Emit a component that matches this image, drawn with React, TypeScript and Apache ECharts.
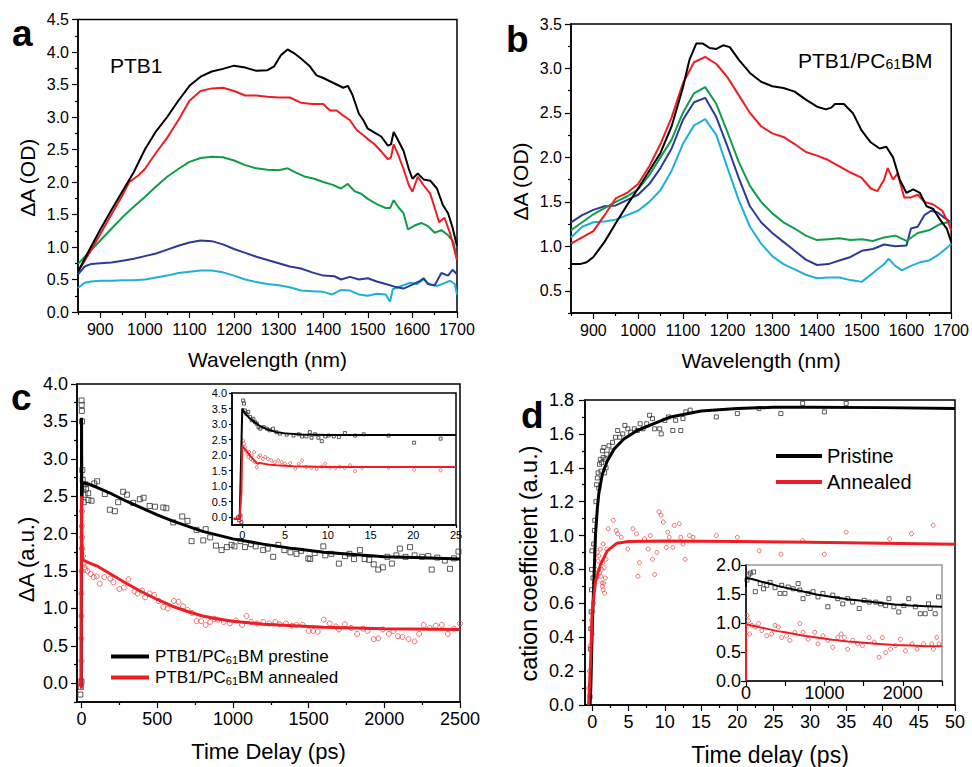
import React, { useEffect, useRef } from 'react';
import * as echarts from 'echarts';

const FONT = '"Liberation Sans", Arial, Helvetica, sans-serif';

// ---------------- Panel a: PTB1 spectra (wavelength nm, ΔA OD) ----------------
const aBlack = [[850,0.62],[875,0.95],[900,1.27],[925,1.57],[950,1.86],[975,2.15],[1000,2.5],[1025,2.78],[1050,3.0],[1075,3.25],[1100,3.48],[1125,3.62],[1150,3.7],[1175,3.74],[1200,3.79],[1225,3.76],[1250,3.71],[1275,3.72],[1290,3.78],[1305,3.95],[1320,4.04],[1335,3.98],[1350,3.9],[1370,3.78],[1385,3.64],[1400,3.6],[1415,3.55],[1430,3.5],[1445,3.45],[1455,3.48],[1465,3.35],[1480,3.05],[1490,2.95],[1500,2.82],[1515,2.76],[1530,2.7],[1545,2.56],[1552,2.58],[1558,2.77],[1565,2.68],[1580,2.48],[1592,2.2],[1600,2.05],[1612,2.13],[1625,2.04],[1640,2.02],[1655,1.9],[1668,1.65],[1680,1.52],[1690,1.3],[1700,1.02]];
const aRed = [[850,0.62],[875,0.9],[900,1.2],[925,1.5],[950,1.8],[965,2.0],[985,2.1],[1000,2.2],[1025,2.45],[1050,2.68],[1075,2.95],[1100,3.25],[1125,3.4],[1150,3.44],[1175,3.45],[1200,3.4],[1225,3.33],[1250,3.33],[1275,3.31],[1300,3.3],[1325,3.3],[1350,3.22],[1375,3.2],[1400,3.2],[1415,3.1],[1430,3.1],[1445,3.02],[1460,2.95],[1475,2.8],[1490,2.72],[1500,2.66],[1515,2.58],[1530,2.47],[1545,2.35],[1552,2.38],[1558,2.58],[1568,2.42],[1580,2.2],[1592,1.95],[1600,1.85],[1612,2.08],[1625,1.95],[1640,1.82],[1650,1.6],[1660,1.38],[1672,1.45],[1685,1.2],[1700,0.8]];
const aGreen = [[850,0.74],[875,0.92],[900,1.1],[925,1.28],[950,1.46],[975,1.62],[1000,1.77],[1025,1.93],[1050,2.08],[1075,2.2],[1100,2.31],[1125,2.37],[1150,2.39],[1175,2.38],[1200,2.33],[1225,2.26],[1250,2.21],[1275,2.19],[1300,2.18],[1320,2.21],[1340,2.14],[1360,2.08],[1380,2.05],[1400,2.0],[1420,1.96],[1440,1.9],[1455,1.97],[1470,1.86],[1485,1.82],[1500,1.74],[1520,1.66],[1540,1.6],[1550,1.6],[1558,1.72],[1570,1.6],[1580,1.52],[1590,1.27],[1605,1.33],[1620,1.37],[1635,1.32],[1650,1.22],[1665,1.26],[1680,1.18],[1692,1.08],[1700,0.8]];
const aBlue = [[850,0.58],[865,0.7],[880,0.74],[900,0.75],[925,0.76],[950,0.79],[975,0.82],[1000,0.86],[1025,0.9],[1050,0.96],[1075,1.02],[1100,1.07],[1125,1.1],[1150,1.09],[1175,1.04],[1200,0.97],[1225,0.91],[1250,0.85],[1275,0.8],[1300,0.75],[1325,0.7],[1350,0.67],[1375,0.61],[1400,0.56],[1425,0.55],[1440,0.5],[1460,0.54],[1480,0.5],[1500,0.52],[1520,0.47],[1540,0.43],[1560,0.39],[1580,0.36],[1600,0.42],[1615,0.47],[1625,0.52],[1635,0.43],[1650,0.41],[1665,0.6],[1680,0.56],[1690,0.65],[1700,0.58]];
const aCyan = [[850,0.37],[865,0.45],[880,0.47],[900,0.48],[925,0.48],[950,0.49],[975,0.49],[1000,0.5],[1025,0.53],[1050,0.56],[1075,0.6],[1100,0.62],[1125,0.64],[1150,0.64],[1175,0.61],[1200,0.56],[1225,0.5],[1250,0.46],[1275,0.43],[1300,0.41],[1325,0.38],[1350,0.33],[1375,0.32],[1400,0.31],[1420,0.27],[1440,0.34],[1460,0.33],[1480,0.27],[1500,0.25],[1520,0.28],[1540,0.27],[1550,0.16],[1556,0.35],[1575,0.4],[1595,0.45],[1610,0.43],[1625,0.5],[1640,0.42],[1655,0.4],[1670,0.44],[1685,0.48],[1695,0.43],[1700,0.27]];

// ---------------- Panel b: PTB1/PC61BM spectra ----------------
const bBlack = [[850,0.8],[870,0.8],[885,0.82],[900,0.88],[925,1.05],[950,1.26],[975,1.46],[1000,1.65],[1025,1.85],[1050,2.05],[1075,2.35],[1100,2.78],[1115,3.1],[1130,3.28],[1145,3.28],[1160,3.23],[1175,3.22],[1190,3.26],[1205,3.24],[1225,3.1],[1250,2.95],[1275,2.85],[1300,2.8],[1325,2.78],[1350,2.74],[1375,2.65],[1400,2.57],[1420,2.54],[1432,2.56],[1440,2.6],[1460,2.6],[1480,2.5],[1500,2.3],[1520,2.17],[1540,2.1],[1555,2.12],[1570,2.0],[1585,1.75],[1600,1.6],[1615,1.64],[1630,1.6],[1645,1.45],[1660,1.42],[1675,1.3],[1690,1.2],[1700,1.05]];
const bRed = [[850,1.03],[875,1.1],[900,1.17],[925,1.35],[950,1.54],[975,1.6],[1000,1.7],[1025,1.9],[1050,2.15],[1075,2.45],[1100,2.83],[1125,3.07],[1150,3.13],[1175,3.05],[1200,2.9],[1225,2.7],[1250,2.5],[1275,2.35],[1300,2.27],[1325,2.23],[1350,2.15],[1375,2.06],[1400,2.02],[1425,1.97],[1450,1.9],[1475,1.83],[1500,1.77],[1520,1.65],[1535,1.62],[1550,1.75],[1558,1.88],[1570,1.75],[1580,1.82],[1595,1.55],[1610,1.55],[1625,1.58],[1640,1.5],[1660,1.47],[1680,1.4],[1695,1.25],[1700,1.18]];
const bGreen = [[850,1.18],[875,1.27],[900,1.36],[925,1.43],[950,1.5],[975,1.56],[1000,1.64],[1025,1.8],[1050,2.0],[1075,2.2],[1100,2.5],[1125,2.72],[1150,2.79],[1175,2.6],[1200,2.28],[1225,1.95],[1250,1.68],[1275,1.5],[1300,1.37],[1325,1.27],[1350,1.2],[1375,1.12],[1400,1.07],[1425,1.08],[1450,1.09],[1475,1.07],[1500,1.08],[1525,1.06],[1550,1.1],[1575,1.12],[1600,1.06],[1625,1.15],[1650,1.18],[1675,1.25],[1700,1.28]];
const bBlue = [[850,1.27],[875,1.35],[900,1.41],[925,1.45],[950,1.46],[975,1.52],[1000,1.58],[1025,1.7],[1050,1.88],[1075,2.1],[1100,2.42],[1125,2.62],[1150,2.67],[1175,2.45],[1200,2.12],[1225,1.77],[1250,1.45],[1275,1.27],[1300,1.15],[1325,1.05],[1350,0.95],[1375,0.85],[1400,0.79],[1425,0.8],[1450,0.84],[1475,0.88],[1500,0.95],[1525,0.97],[1550,1.02],[1575,1.0],[1600,1.01],[1610,1.2],[1625,1.22],[1640,1.35],[1655,1.4],[1670,1.38],[1685,1.32],[1700,1.27]];
const bCyan = [[850,1.1],[875,1.22],[900,1.27],[925,1.28],[950,1.3],[975,1.35],[1000,1.4],[1025,1.5],[1050,1.63],[1075,1.85],[1100,2.15],[1125,2.36],[1150,2.43],[1175,2.25],[1200,1.88],[1225,1.52],[1250,1.22],[1275,1.03],[1300,0.89],[1325,0.8],[1350,0.74],[1375,0.68],[1400,0.64],[1425,0.65],[1450,0.65],[1475,0.62],[1500,0.6],[1525,0.7],[1550,0.8],[1560,0.86],[1575,0.78],[1590,0.73],[1610,0.78],[1630,0.82],[1650,0.84],[1670,0.9],[1690,0.98],[1700,1.03]];

// ---------------- Panel c: kinetics (ps, ΔA a.u.) ----------------
const cBlackFit = [[-10,-0.05],[-2,-0.05],[0,3.55],[2,2.4],[6,2.68],[50,2.66],[100,2.62],[200,2.53],[300,2.43],[400,2.34],[500,2.25],[600,2.17],[700,2.1],[800,2.03],[900,1.98],[1000,1.93],[1200,1.86],[1400,1.8],[1600,1.75],[1800,1.72],[2000,1.69],[2200,1.68],[2500,1.66]];
const cRedFit = [[-10,-0.05],[-3,-0.05],[0,2.5],[3,1.9],[8,1.65],[50,1.61],[100,1.57],[200,1.45],[300,1.33],[400,1.22],[500,1.12],[600,1.03],[700,0.96],[800,0.9],[900,0.86],[1000,0.83],[1200,0.79],[1400,0.77],[1600,0.75],[1800,0.74],[2000,0.73],[2500,0.72]];
const cBlackPts = [[-8,-0.15],[-5,-0.05],[0,0.02],[0,3.78],[1,3.72],[2,3.64],[3,3.5],[5,2.85],[8,2.72],[12,2.62],[15,2.42],[20,2.52],[25,2.66],[30,2.6],[44,2.54],[45,2.45],[66,2.44],[84,2.67],[103,2.7],[154,2.53],[187,2.32],[220,2.3],[242,2.42],[275,2.56],[300,2.52],[341,2.41],[385,2.46],[410,2.48],[450,2.37],[485,2.36],[540,2.35],[560,2.34],[606,2.15],[665,2.23],[700,2.17],[727,1.9],[760,2.05],[804,1.91],[820,2.06],[850,1.95],[888,1.84],[925,1.78],[960,1.82],[991,1.85],[1010,1.83],[1050,1.9],[1080,1.82],[1120,1.86],[1150,1.83],[1200,1.78],[1230,1.8],[1266,1.69],[1300,1.85],[1340,1.78],[1380,1.75],[1420,1.73],[1450,1.77],[1498,1.67],[1510,1.66],[1540,1.74],[1597,1.83],[1610,1.71],[1650,1.73],[1700,1.6],[1740,1.7],[1770,1.73],[1800,1.66],[1839,1.78],[1870,1.66],[1900,1.65],[1930,1.59],[1960,1.52],[1990,1.55],[2020,1.69],[2050,1.6],[2080,1.71],[2103,1.8],[2140,1.69],[2170,1.82],[2200,1.71],[2250,1.69],[2290,1.7],[2313,1.52],[2350,1.68],[2400,1.64],[2434,1.53],[2460,1.67],[2490,1.76]];
const cRedPts = [[-6,-0.05],[-4,0.0],[-2,0.05],[0,0.3],[0,0.6],[0,0.9],[0,1.2],[0,1.5],[1,1.8],[2,2.1],[3,2.3],[4,1.95],[6,1.8],[10,1.7],[15,1.6],[20,1.55],[25,1.52],[40,1.5],[60,1.46],[80,1.42],[100,1.43],[120,1.33],[150,1.42],[190,1.4],[210,1.35],[250,1.26],[280,1.28],[310,1.39],[350,1.23],[370,1.2],[400,1.24],[420,1.15],[450,1.2],[480,1.18],[510,1.1],[540,1.02],[570,1.0],[610,1.1],[640,1.09],[670,1.03],[700,0.98],[730,0.94],[760,0.83],[790,0.83],[820,0.78],[850,0.82],[880,0.86],[900,0.85],[940,0.82],[980,0.8],[1020,0.84],[1060,0.78],[1090,0.9],[1120,0.82],[1160,0.8],[1200,0.82],[1240,0.8],[1280,0.82],[1310,0.79],[1350,0.8],[1390,0.77],[1420,0.78],[1460,0.78],[1500,0.7],[1530,0.7],[1560,0.69],[1600,0.85],[1640,0.8],[1680,0.76],[1700,0.72],[1740,0.79],[1780,0.74],[1820,0.66],[1860,0.73],[1890,0.7],[1930,0.59],[1960,0.6],[1990,0.72],[2030,0.66],[2060,0.7],[2090,0.63],[2120,0.62],[2160,0.59],[2200,0.56],[2230,0.66],[2260,0.78],[2300,0.74],[2340,0.77],[2380,0.78],[2420,0.66],[2460,0.73],[2500,0.8]];

// Panel c inset (0–25 ps)
const ciBlackFit = [[-1,-0.05],[-0.3,-0.05],[0,3.5],[0.3,3.35],[1,3.15],[2,2.95],[3,2.82],[4,2.74],[5,2.7],[7,2.66],[10,2.65],[25,2.65]];
const ciRedFit = [[-1,-0.05],[-0.3,-0.05],[-0.1,0.8],[0,2.3],[0.3,2.2],[1,1.95],[1.5,1.8],[1.8,1.72],[2,1.75],[3,1.7],[4,1.67],[6,1.64],[10,1.62],[25,1.62]];
const ciBlackPts = [[-0.5,0.0],[-0.35,-0.1],[-0.2,0.05],[-0.1,-0.16],[0.1,3.76],[0.2,3.66],[0.3,3.44],[0.5,3.33],[0.7,3.39],[0.9,3.23],[1.1,3.12],[1.3,3.17],[1.5,3.06],[1.7,3.01],[1.9,2.9],[2.1,2.85],[2.5,2.9],[2.9,2.85],[3.2,2.8],[3.6,2.85],[4,2.74],[4.4,2.69],[5.2,2.66],[6,2.63],[6.6,2.67],[7,2.6],[7.5,2.6],[7.9,2.74],[8.1,2.56],[8.5,2.67],[8.9,2.56],[9.3,2.45],[9.7,2.6],[10.1,2.63],[10.7,2.6],[11.3,2.58],[12,2.71],[13.2,2.63],[14.2,2.67],[17.1,2.63],[20.1,2.4],[23.2,2.53]];
const ciRedPts = [[-0.5,0.0],[-0.3,0.05],[-0.15,-0.05],[0.1,2.47],[0.2,2.37],[0.3,2.26],[0.4,2.15],[0.6,2.04],[0.7,1.94],[0.8,2.1],[1,1.88],[1.1,1.99],[1.2,1.83],[1.4,2.1],[1.5,1.77],[1.7,1.61],[1.9,1.94],[2.1,1.99],[2.4,1.88],[2.7,1.94],[3,1.88],[3.4,1.83],[3.8,1.77],[4.2,1.83],[4.6,1.77],[5,1.72],[5.6,1.74],[6.2,1.56],[6.6,1.72],[7,1.83],[7.5,1.61],[8.1,1.59],[8.7,1.56],[9.3,1.63],[9.7,1.72],[10.3,1.59],[10.9,1.59],[11.4,1.63],[12,1.59],[12.6,1.67],[13.2,1.48],[14,1.59],[17.1,1.59],[20.1,1.53],[23.2,1.51]];

// ---------------- Panel d: cation coefficient ----------------
const dBlackFit = [[-0.3,0],[-0.2,0.1],[0,0.46],[0.22,0.73],[0.45,1.01],[0.7,1.16],[0.91,1.25],[1.38,1.36],[2.07,1.44],[3,1.51],[4.35,1.57],[6.2,1.62],[8.5,1.66],[10.8,1.7],[15,1.735],[20,1.75],[25,1.757],[30,1.757],[40,1.755],[50,1.75]];
const dRedFit = [[-0.5,0],[-0.23,0.26],[0,0.56],[0.45,0.73],[1.14,0.83],[2.07,0.91],[3.4,0.955],[5,0.965],[10,0.968],[20,0.965],[30,0.96],[40,0.955],[50,0.948]];
const dBlackPts = [[-0.3,0.05],[-0.25,0.33],[-0.2,0.45],[-0.15,0.55],[-0.1,0.68],[-0.1,0.8],[-0.05,0.91],[0.1,0.75],[0.2,0.95],[0.3,1.03],[0.35,1.09],[0.5,1.2],[0.6,1.3],[0.7,1.34],[0.8,1.37],[0.9,1.28],[1.0,1.42],[1.1,1.45],[1.2,1.38],[1.3,1.43],[1.4,1.5],[1.5,1.46],[1.6,1.52],[1.7,1.37],[1.8,1.45],[1.9,1.4],[2.0,1.48],[2.3,1.53],[2.6,1.5],[2.8,1.55],[3.2,1.58],[3.5,1.62],[3.8,1.58],[4.2,1.6],[4.5,1.65],[4.9,1.63],[5.3,1.61],[5.8,1.63],[6.2,1.62],[6.6,1.66],[7,1.63],[7.5,1.66],[7.9,1.71],[8.3,1.69],[8.6,1.63],[9.3,1.63],[9.5,1.6],[10,1.68],[10.5,1.7],[11.1,1.62],[11.5,1.68],[12.2,1.62],[12.5,1.69],[12.9,1.73],[13.5,1.74],[17.1,1.7],[20,1.72],[23,1.75],[26,1.72],[29,1.78],[32,1.73],[35,1.78]];
const dRedPts = [[-0.5,0.1],[-0.4,0.2],[-0.3,0.35],[-0.2,0.45],[-0.1,0.5],[0,0.42],[0.1,0.55],[0.2,0.6],[0.3,0.72],[0.4,0.78],[0.5,0.8],[0.6,0.75],[0.7,0.9],[0.8,0.85],[0.9,0.88],[1.0,0.78],[1.1,0.92],[1.2,0.76],[1.3,0.8],[1.35,0.72],[1.4,0.7],[1.45,0.84],[1.5,0.68],[1.5,0.95],[1.6,0.72],[1.65,0.81],[1.7,0.66],[1.8,0.75],[1.9,0.86],[2.0,0.92],[2.2,1.04],[2.9,1.09],[3.3,1.03],[3.5,1.01],[4,0.99],[4.9,0.92],[5.6,1.04],[6.1,1.01],[6.3,0.76],[6.5,0.84],[7.2,0.98],[7.7,0.92],[8,1.0],[8.3,0.86],[8.6,0.77],[8.9,0.9],[9.2,1.14],[9.5,1.12],[9.8,1.08],[10.2,0.93],[10.4,1.02],[10.6,0.99],[11.1,0.93],[11.3,1.06],[12,1.07],[12.2,0.99],[12.5,0.95],[12.8,0.86],[13.4,1.0],[13.9,0.99],[17.1,1.0],[20,0.99],[23,0.91],[26,0.89],[29,0.97],[32,0.89],[35,1.02],[41,0.98],[44,1.01],[47,1.06]];

// Panel d inset (0–2500 ps)
const diBlackFit = [[0,1.62],[0,1.78],[100,1.75],[200,1.71],[300,1.68],[400,1.64],[500,1.61],[700,1.55],[900,1.49],[1100,1.45],[1300,1.41],[1500,1.38],[1700,1.35],[1900,1.32],[2100,1.3],[2300,1.29],[2500,1.28]];
const diRedFit = [[0,0],[0,0.98],[100,0.95],[200,0.92],[300,0.89],[400,0.86],[500,0.84],[700,0.79],[900,0.75],[1100,0.71],[1300,0.68],[1500,0.66],[1700,0.64],[1900,0.62],[2100,0.61],[2300,0.6],[2500,0.6]];
const diBlackPts = [[13,1.74],[34,1.83],[55,1.86],[97,1.88],[118,1.54],[181,1.68],[223,1.59],[265,1.65],[307,1.7],[370,1.61],[434,1.51],[455,1.65],[497,1.51],[539,1.62],[602,1.59],[665,1.68],[686,1.57],[728,1.42],[792,1.51],[855,1.54],[918,1.45],[981,1.51],[1044,1.28],[1107,1.48],[1171,1.42],[1234,1.33],[1297,1.42],[1360,1.36],[1444,1.25],[1507,1.39],[1571,1.36],[1655,1.36],[1718,1.33],[1781,1.3],[1823,1.42],[1886,1.28],[1949,1.19],[2013,1.3],[2076,1.42],[2160,1.28],[2223,1.16],[2286,1.16],[2328,1.33],[2349,1.25],[2413,1.16],[2455,1.45]];
const diRedPts = [[13,1.13],[34,1.04],[46,0.81],[76,0.96],[118,0.93],[160,0.99],[202,0.87],[265,0.78],[328,0.81],[370,0.96],[413,0.93],[455,0.75],[518,0.78],[560,0.7],[623,0.84],[686,0.99],[728,0.84],[792,0.72],[876,0.84],[918,0.64],[981,0.78],[1044,0.7],[1107,0.58],[1171,0.75],[1213,0.81],[1255,0.75],[1297,0.55],[1360,0.7],[1423,0.64],[1486,0.61],[1571,0.75],[1634,0.67],[1697,0.41],[1739,0.75],[1781,0.49],[1844,0.55],[1907,0.61],[1970,0.72],[2034,0.52],[2118,0.64],[2181,0.55],[2265,0.64],[2370,0.64],[2391,0.55],[2434,0.75],[2463,0.64]];

// ---------------- Ticks ----------------
const specXTicks = [900,1000,1100,1200,1300,1400,1500,1600,1700];
const specXMinor = [850,950,1050,1150,1250,1350,1450,1550,1650];
const aYTicks = [0,0.5,1,1.5,2,2.5,3,3.5,4,4.5];
const aYMinor = [0.25,0.75,1.25,1.75,2.25,2.75,3.25,3.75,4.25];
const bYTicks = [0.5,1,1.5,2,2.5,3,3.5];
const bYMinor = [0.25,0.75,1.25,1.75,2.25,2.75,3.25];
const cXTicks = [0,500,1000,1500,2000,2500];
const cXMinor = [250,750,1250,1750,2250];
const cYTicks = [0,0.5,1,1.5,2,2.5,3,3.5,4];
const cYMinor = [-0.25,0.25,0.75,1.25,1.75,2.25,2.75,3.25,3.75];
const ciXTicks = [0,5,10,15,20,25];
const ciXMinor = [2.5,7.5,12.5,17.5,22.5];
const dXTicks = [0,5,10,15,20,25,30,35,40,45,50];
const dXMinor = [2.5,7.5,12.5,17.5,22.5,27.5,32.5,37.5,42.5,47.5];
const dYTicks = [0,0.2,0.4,0.6,0.8,1,1.2,1.4,1.6,1.8];
const dYMinor = [0.1,0.3,0.5,0.7,0.9,1.1,1.3,1.5,1.7];
const diXLabels = [0,1000,2000];
const diXTicks = [0,500,1000,1500,2000,2500];
const diYTicks = [0,0.5,1,1.5,2];

const legendC = ['PTB1/PC61BM prestine', 'PTB1/PC61BM annealed'];
const legendD = ['Pristine', 'Annealed'];

const C = { black: '#000000', red: '#ee1d23', green: '#0f9d4a', blue: '#2c3b97', cyan: '#1fb0d8', redPt: '#ef4a4a', blackPt: '#333333' };

function axisPair(dim: 'x' | 'y', grid: number, min: number, max: number, ticks: number[], minor: number[], labelVals: number[], fontSize: number, margin: number, fmt: (v: number) => string, name?: string, nameGap?: number, nameSize?: number, namePad?: number[], tickLen = 6) {
  const pos = dim === 'x' ? 'bottom' : 'left';
  const main: any = {
    type: 'value', gridIndex: grid, min, max, position: pos,
    axisLine: { show: true, onZero: false, lineStyle: { color: '#000', width: 1.5 } },
    axisTick: { show: true, inside: false, length: tickLen, customValues: ticks, lineStyle: { color: '#000', width: 1.2 } },
    axisLabel: { show: true, customValues: labelVals, fontSize, margin, color: '#000', fontFamily: FONT, formatter: fmt },
    splitLine: { show: false },
    minorTick: { show: false },
  };
  if (name) {
    main.name = name;
    main.nameLocation = 'middle';
    main.nameGap = nameGap;
    main.nameTextStyle = { fontSize: nameSize, fontFamily: FONT, color: '#000', padding: namePad || 0 };
  }
  const sub: any = {
    type: 'value', gridIndex: grid, min, max, position: pos,
    axisLine: { show: false, onZero: false },
    axisTick: { show: minor.length > 0, inside: false, length: Math.max(3, tickLen / 2), customValues: minor, lineStyle: { color: '#000', width: 1.2 } },
    axisLabel: { show: false },
    splitLine: { show: false },
  };
  return [main, sub];
}

const f1 = (v: number) => v.toFixed(1);
const f0 = (v: number) => String(Math.round(v));

const xAxes = [
  ...axisPair('x', 0, 850, 1700, specXTicks, specXMinor, specXTicks, 16, 9, f0, 'Wavelength (nm)', 37, 21),
  ...axisPair('x', 1, 850, 1700, specXTicks, specXMinor, specXTicks, 16, 9, f0, 'Wavelength (nm)', 37, 21),
  ...axisPair('x', 2, -30, 2500, cXTicks, cXMinor, cXTicks, 18, 8, f0, 'Time Delay (ps)', 38, 22),
  ...axisPair('x', 3, -1.2, 25, ciXTicks, ciXMinor, ciXTicks, 11, 4, f0, undefined, 0, 0, undefined, 3),
  ...axisPair('x', 4, -1, 50, dXTicks, dXMinor, dXTicks, 18, 8, f0, 'Time delay (ps)', 38, 23),
  ...axisPair('x', 5, 0, 2500, diXTicks, [], diXLabels, 18, 3, f0, undefined, 0, 0, undefined, 5),
];
const yAxes = [
  ...axisPair('y', 0, 0, 4.5, aYTicks, aYMinor, aYTicks, 16, 9, f1, 'ΔA (OD)', 40, 21, [0, 24, 0, 0]),
  ...axisPair('y', 1, 0.25, 3.5, bYTicks, bYMinor, bYTicks, 16, 9, f1, 'ΔA (OD)', 40, 21, [0, 26, 0, 0]),
  ...axisPair('y', 2, -0.25, 4, cYTicks, cYMinor, cYTicks, 18, 9, f1, 'ΔA (a.u.)', 40, 22, [0, 33, 0, 0]),
  ...axisPair('y', 3, -0.25, 4, cYTicks, [], cYTicks, 11, 5, f1, undefined, 0, 0, undefined, 3),
  ...axisPair('y', 4, 0, 1.8, dYTicks, dYMinor, dYTicks, 18, 11, f1, 'cation coefficient (a.u.)', 44, 23.5, [0, 22, 0, 0]),
  ...axisPair('y', 5, 0, 2, diYTicks, [], diYTicks, 18, 5, f1, undefined, 0, 0, undefined, 5),
];

const line = (name: string, data: number[][], axis: number, color: string, width: number) => ({
  name, type: 'line', data, xAxisIndex: axis * 2, yAxisIndex: axis * 2, showSymbol: false, symbol: 'none',
  lineStyle: { color, width }, itemStyle: { color }, silent: true,
});
const pts = (name: string, data: number[][], axis: number, shape: string, color: string, size: number) => ({
  name, type: 'scatter', data, xAxisIndex: axis * 2, yAxisIndex: axis * 2, symbol: shape, symbolSize: size,
  itemStyle: { color: 'rgba(0,0,0,0)', borderColor: color, borderWidth: 1 }, silent: true,
});

const option: any = {
  animation: false,
  backgroundColor: '#ffffff',
  grid: [
    { left: 78, top: 19.5, width: 379, height: 292.5, show: true, borderColor: '#000', borderWidth: 1.5 },
    { left: 571, top: 24, width: 381, height: 289, show: true, borderColor: '#000', borderWidth: 1.5 },
    { left: 77, top: 384, width: 383, height: 318, show: true, borderColor: '#000', borderWidth: 1.5 },
    { left: 232, top: 393, width: 224, height: 132, show: true, borderColor: '#000', borderWidth: 1.5 },
    { left: 585, top: 400, width: 370, height: 306, show: true, borderColor: '#000', borderWidth: 1.5 },
    { left: 746, top: 565, width: 196, height: 116, show: true, borderColor: '#9a9a9a', borderWidth: 1.5 },
  ],
  xAxis: xAxes,
  yAxis: yAxes,
  legend: [
    {
      data: legendC, left: 106, top: 643, orient: 'vertical', itemWidth: 38, itemHeight: 4, itemGap: 4, icon: 'rect',
      selectedMode: false, formatter: (n: string) => n.replace('61', '{s|61}'),
      textStyle: { fontSize: 17, fontFamily: FONT, color: '#000', padding: [0, 0, 0, 1], rich: { s: { fontSize: 11, fontFamily: FONT, color: '#000', verticalAlign: 'bottom' } } },
    },
    {
      data: legendD, left: 771, top: 441, orient: 'vertical', itemWidth: 46, itemHeight: 4, itemGap: 6, icon: 'rect',
      selectedMode: false, textStyle: { fontSize: 20, fontFamily: FONT, color: '#000' },
    },
  ],
  graphic: [
    { type: 'text', x: 12, y: 33, style: { text: 'a', fontSize: 37, fontWeight: 'bold', fontFamily: FONT, fill: '#000', verticalAlign: 'middle' } },
    { type: 'text', x: 506, y: 39, style: { text: 'b', fontSize: 37, fontWeight: 'bold', fontFamily: FONT, fill: '#000', verticalAlign: 'middle' } },
    { type: 'text', x: 11, y: 397, style: { text: 'c', fontSize: 37, fontWeight: 'bold', fontFamily: FONT, fill: '#000', verticalAlign: 'middle' } },
    { type: 'text', x: 521, y: 415, style: { text: 'd', fontSize: 37, fontWeight: 'bold', fontFamily: FONT, fill: '#000', verticalAlign: 'middle' } },
    { type: 'text', x: 110, y: 65, style: { text: 'PTB1', fontSize: 21, fontFamily: FONT, fill: '#000', verticalAlign: 'middle' } },
    { type: 'text', x: 798, y: 60, style: { text: 'PTB1/PC{s|61}BM', fontSize: 21, fontFamily: FONT, fill: '#000', verticalAlign: 'middle', rich: { s: { fontSize: 14, fontFamily: FONT, fill: '#000', verticalAlign: 'bottom' } } } },
  ],
  series: [
    line('a cyan', aCyan, 0, C.cyan, 2),
    line('a blue', aBlue, 0, C.blue, 2),
    line('a green', aGreen, 0, C.green, 2),
    line('a red', aRed, 0, C.red, 2),
    line('a black', aBlack, 0, C.black, 2),
    line('b cyan', bCyan, 1, C.cyan, 2),
    line('b blue', bBlue, 1, C.blue, 2),
    line('b green', bGreen, 1, C.green, 2),
    line('b red', bRed, 1, C.red, 2),
    line('b black', bBlack, 1, C.black, 2),
    pts('c black pts', cBlackPts, 2, 'rect', C.blackPt, 5),
    pts('c red pts', cRedPts, 2, 'circle', C.redPt, 5),
    line(legendC[0], cBlackFit, 2, C.black, 3),
    line(legendC[1], cRedFit, 2, C.red, 3),
    pts('ci black pts', ciBlackPts, 3, 'rect', C.blackPt, 3),
    pts('ci red pts', ciRedPts, 3, 'circle', C.redPt, 3),
    line('ci black fit', ciBlackFit, 3, C.black, 2),
    line('ci red fit', ciRedFit, 3, C.red, 2),
    pts('d black pts', dBlackPts, 4, 'rect', C.blackPt, 4),
    pts('d red pts', dRedPts, 4, 'circle', C.redPt, 4),
    line(legendD[0], dBlackFit, 4, C.black, 3),
    line(legendD[1], dRedFit, 4, C.red, 3),
    pts('di black pts', diBlackPts, 5, 'rect', C.blackPt, 4),
    pts('di red pts', diRedPts, 5, 'circle', C.redPt, 4),
    line('di black fit', diBlackFit, 5, C.black, 2),
    line('di red fit', diRedFit, 5, C.red, 2),
  ],
};

export default function App() {
  const ref = useRef<HTMLDivElement>(null);
  useEffect(() => {
    const chart = echarts.init(ref.current!, null, { renderer: 'svg' });
    chart.setOption(option);
    return () => chart.dispose();
  }, []);
  return <div ref={ref} style={{ position: 'fixed', left: 0, top: 0, width: 972, height: 767, background: '#fff' }} />;
}
